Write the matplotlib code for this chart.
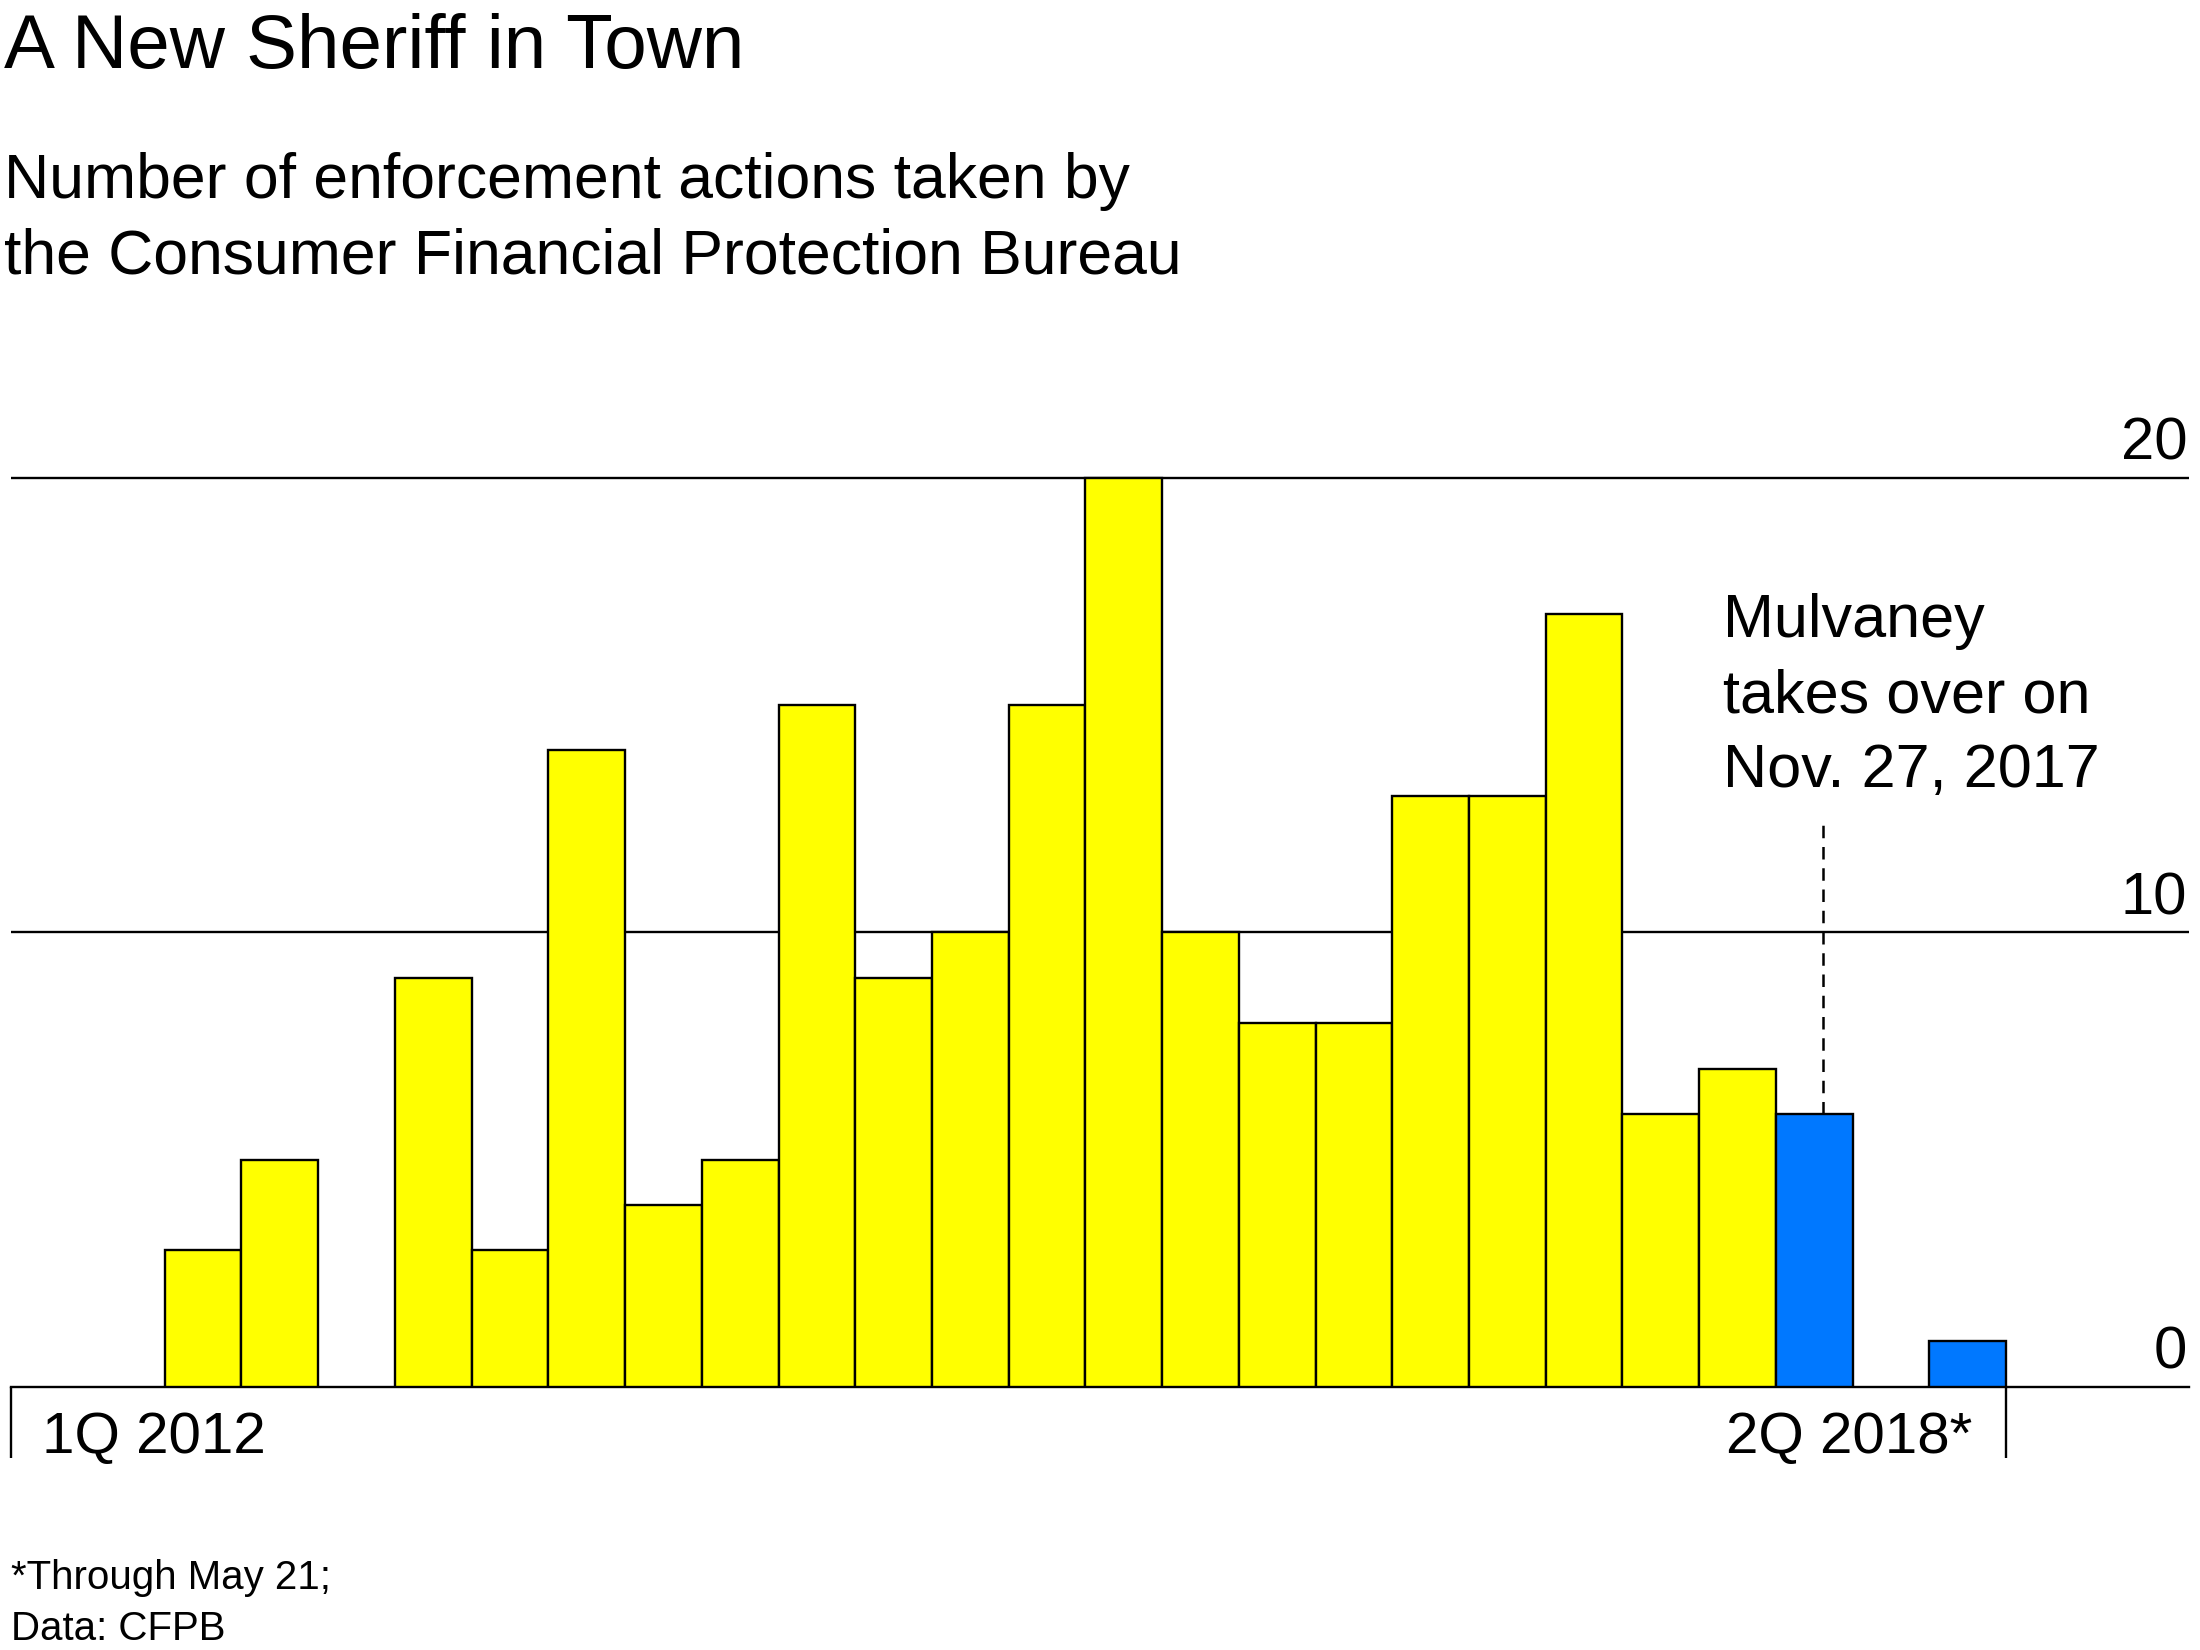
import datetime as dt
import matplotlib
matplotlib.use("Agg")
import matplotlib.pyplot as plt

# quarterly CFPB enforcement actions, 1Q 2012 .. 2Q 2018
quarters = ["1Q 2012", "2Q 2012", "3Q 2012", "4Q 2012",
            "1Q 2013", "2Q 2013", "3Q 2013", "4Q 2013",
            "1Q 2014", "2Q 2014", "3Q 2014", "4Q 2014",
            "1Q 2015", "2Q 2015", "3Q 2015", "4Q 2015",
            "1Q 2016", "2Q 2016", "3Q 2016", "4Q 2016",
            "1Q 2017", "2Q 2017", "3Q 2017", "4Q 2017",
            "1Q 2018", "2Q 2018*"]
actions = [0, 0, 3, 5, 0, 9, 3, 14, 4, 5, 15, 9, 10,
           15, 20, 10, 8, 8, 13, 13, 17, 6, 7, 6, 0, 1]
mulvaney = [False] * 23 + [True, True, True]   # from 4Q 2017 on

y_ticks = [0, 10, 20]
takeover = dt.date(2017, 11, 27)

YELLOW = "#FFFF00"
BLUE = "#0078FF"

plt.rcParams["font.family"] = "Liberation Sans"

fig = plt.figure(figsize=(22, 16.5), dpi=100)
ax = fig.add_axes([0.00514, 0.1595, 0.9897, 0.6062])

n = len(actions)
xs = [i for i in range(n) if actions[i] > 0]
ax.bar(xs, [actions[i] for i in xs], width=1, align="edge",
       color=[BLUE if mulvaney[i] else YELLOW for i in xs],
       edgecolor="black", linewidth=1.7, zorder=3)

for v in y_ticks[1:]:
    ax.axhline(v, color="black", linewidth=1.7, zorder=1)
for v in y_ticks:
    ax.annotate(str(v), xy=(1, v), xycoords=("axes fraction", "data"),
                xytext=(-1, 13), textcoords="offset points",
                ha="right", va="baseline", fontsize=43)

# dashed marker at the takeover date inside 4Q 2017
q_start = dt.date(2017, 10, 1)
q_end = dt.date(2018, 1, 1)
x_take = 23 + (takeover - q_start).days / (q_end - q_start).days
ax.plot([x_take, x_take], [actions[23], 12.4], color="black",
        linestyle=(0, (5, 3.5)), linewidth=1.8, zorder=2)
ax.text(22.31, 13.2, "Mulvaney\ntakes over on\nNov. 27, 2017",
        ha="left", va="baseline", fontsize=44, linespacing=1.4)

ax.set_xlim(0, n + 2.38)
ax.set_ylim(0, 22)
for s in ["top", "right", "left"]:
    ax.spines[s].set_visible(False)
ax.spines["bottom"].set_linewidth(1.7)
ax.set_yticks([])
ax.set_xticks([0, n])
ax.set_xticklabels([])
ax.tick_params(axis="x", direction="out", length=51, width=1.7)

ax.annotate(quarters[0], xy=(0, 0), xytext=(22, -48), textcoords="offset points",
            ha="left", va="baseline", fontsize=42)
ax.annotate(quarters[-1], xy=(n, 0), xytext=(-24, -48), textcoords="offset points",
            ha="right", va="baseline", fontsize=42)

fig.text(0.002, 0.9588, "A New Sheriff in Town",
         fontsize=55, ha="left", va="baseline")
fig.text(0.002, 0.834, "Number of enforcement actions taken by\nthe Consumer Financial Protection Bureau",
         fontsize=45, ha="left", va="baseline", linespacing=1.36)
fig.text(0.005, 0.006, "*Through May 21;\nData: CFPB",
         fontsize=29, ha="left", va="baseline", linespacing=1.45)

fig.savefig("out.png", dpi=100)
